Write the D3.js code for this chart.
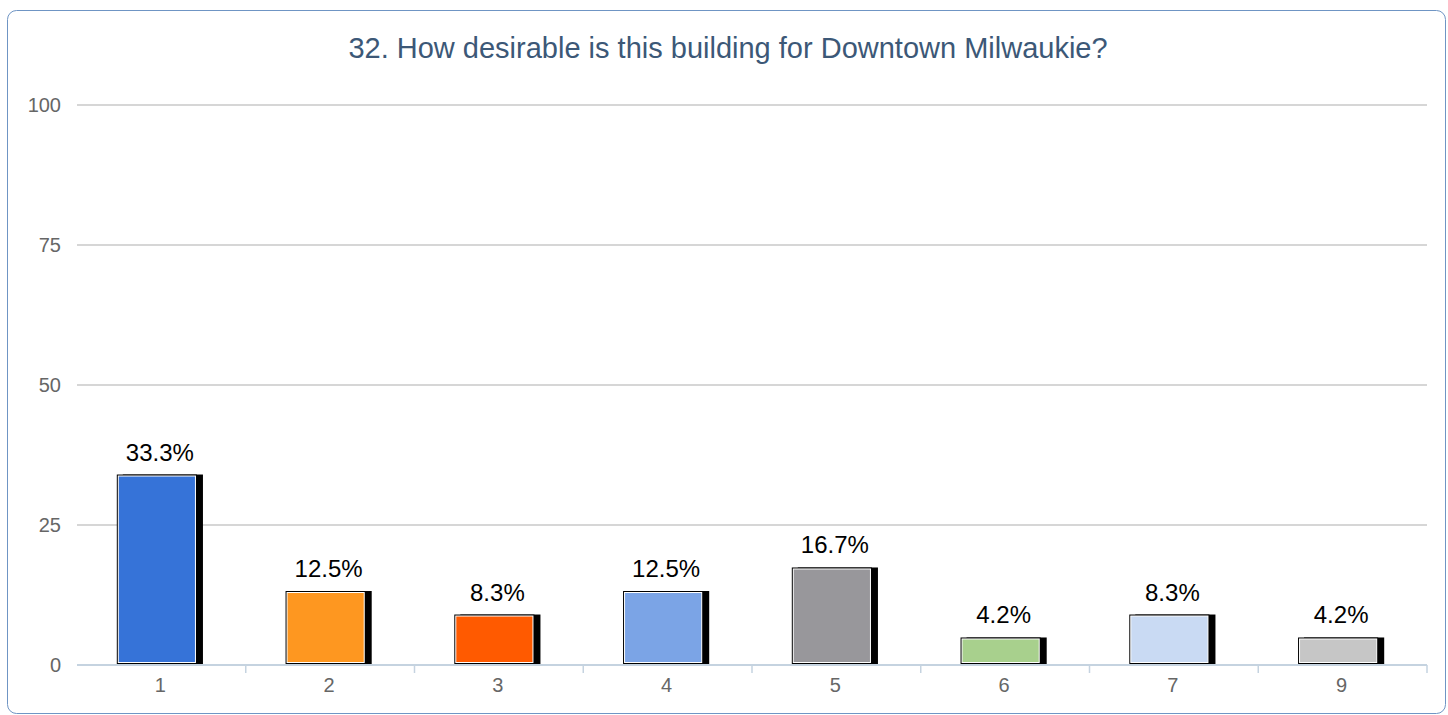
<!DOCTYPE html>
<html>
<head>
<meta charset="utf-8">
<script src="https://cdn.jsdelivr.net/npm/d3@7"></script>
<style>
  html, body { margin: 0; padding: 0; background: #fff; }
  svg { display: block; font-family: "Liberation Sans", Arial, sans-serif; }
</style>
</head>
<body>
<div id="chart"></div>
<script>
const title = "32. How desirable is this building for Downtown Milwaukie?";
const categories = ["1", "2", "3", "4", "5", "6", "7", "9"];
const values = [33.3, 12.5, 8.3, 12.5, 16.7, 4.2, 8.3, 4.2];
const colors = ["#3673d8", "#fe9720", "#ff5a00", "#7ba4e6", "#98979b", "#a8d08d", "#c9daf3", "#c6c6c6"];
const yTicks = [0, 25, 50, 75, 100];

const W = 1448, H = 715;
const margin = { top: 105, right: 21, bottom: 50, left: 77 };
const width = W - margin.left - margin.right;
const height = H - margin.top - margin.bottom;

const svg = d3.select('#chart').append('svg')
  .attr('width', W)
  .attr('height', H);

// panel frame
svg.append('rect')
  .attr('x', 7.5).attr('y', 10.5)
  .attr('width', 1438).attr('height', 703)
  .attr('rx', 9)
  .attr('fill', 'none')
  .attr('stroke', '#6f95c4')
  .attr('stroke-width', 1);

svg.append('text')
  .attr('x', 728).attr('y', 58)
  .attr('text-anchor', 'middle')
  .attr('fill', '#3c5877')
  .style('font-size', '29px')
  .text(title);

const g = svg.append('g')
  .attr('transform', 'translate(' + margin.left + ',' + margin.top + ')');

const x = d3.scaleBand().domain(categories).range([0, width]).paddingInner(0).paddingOuter(0);
const y = d3.scaleLinear().domain([0, 100]).range([height, 0]);

// gridlines
g.append('g')
  .selectAll('line')
  .data(yTicks.filter(d => d > 0))
  .enter()
  .append('line')
  .attr('x1', 0).attr('x2', width)
  .attr('y1', d => y(d)).attr('y2', d => y(d))
  .attr('stroke', '#c8c8c8')
  .attr('stroke-width', 1.5);

// y labels
const yAxis = g.append('g')
  .call(d3.axisLeft(y).tickValues(yTicks).tickSize(0).tickPadding(16));
yAxis.select('.domain').remove();
yAxis.selectAll('text')
  .attr('fill', '#666')
  .style('font-size', '20px')
  .style('font-family', '"Liberation Sans", Arial, sans-serif');

// bars
const barW = x.bandwidth() * 0.475;
const bars = g.append('g')
  .selectAll('g')
  .data(values)
  .enter()
  .append('g');

const bx = (d, i) => x(categories[i]) + x.bandwidth() / 2 - barW / 2 - 4.5;

bars.append('rect')
  .attr('x', (d, i) => bx(d, i) + 6)
  .attr('y', d => y(d) - 4)
  .attr('width', barW)
  .attr('height', d => height - y(d) + 3)
  .attr('fill', '#000');

bars.append('rect')
  .attr('x', (d, i) => bx(d, i))
  .attr('y', d => y(d) - 4)
  .attr('width', barW)
  .attr('height', d => height - y(d) + 3)
  .attr('fill', '#000');

bars.append('rect')
  .attr('x', (d, i) => bx(d, i) + 1.5)
  .attr('y', d => y(d) - 2.5)
  .attr('width', barW - 3)
  .attr('height', d => height - y(d))
  .attr('fill', (d, i) => colors[i])
  .attr('stroke', '#fff')
  .attr('stroke-width', 1);

bars.append('text')
  .attr('x', (d, i) => x(categories[i]) + x.bandwidth() / 2 - 1.5)
  .attr('y', d => y(d) - 18)
  .attr('text-anchor', 'middle')
  .attr('fill', '#000')
  .style('font-size', '24px')
  .text(d => d.toFixed(1) + '%');

// x axis
const xAxisG = g.append('g')
  .attr('transform', 'translate(0,' + height + ')');
xAxisG.append('line')
  .attr('x1', 0).attr('x2', width)
  .attr('stroke', '#c5d3e0')
  .attr('stroke-width', 2);
xAxisG.selectAll('.tick')
  .data(categories.slice(1).concat(['end']))
  .enter()
  .append('line')
  .attr('x1', d => d === 'end' ? width : x(d))
  .attr('x2', d => d === 'end' ? width : x(d))
  .attr('y1', 0).attr('y2', 8)
  .attr('stroke', '#c5d3e0')
  .attr('stroke-width', 1.5);
xAxisG.selectAll('.lbl')
  .data(categories)
  .enter()
  .append('text')
  .attr('x', d => x(d) + x.bandwidth() / 2 - 1)
  .attr('y', 27)
  .attr('text-anchor', 'middle')
  .attr('fill', '#666')
  .style('font-size', '20px')
  .text(d => d);
</script>
</body>
</html>
